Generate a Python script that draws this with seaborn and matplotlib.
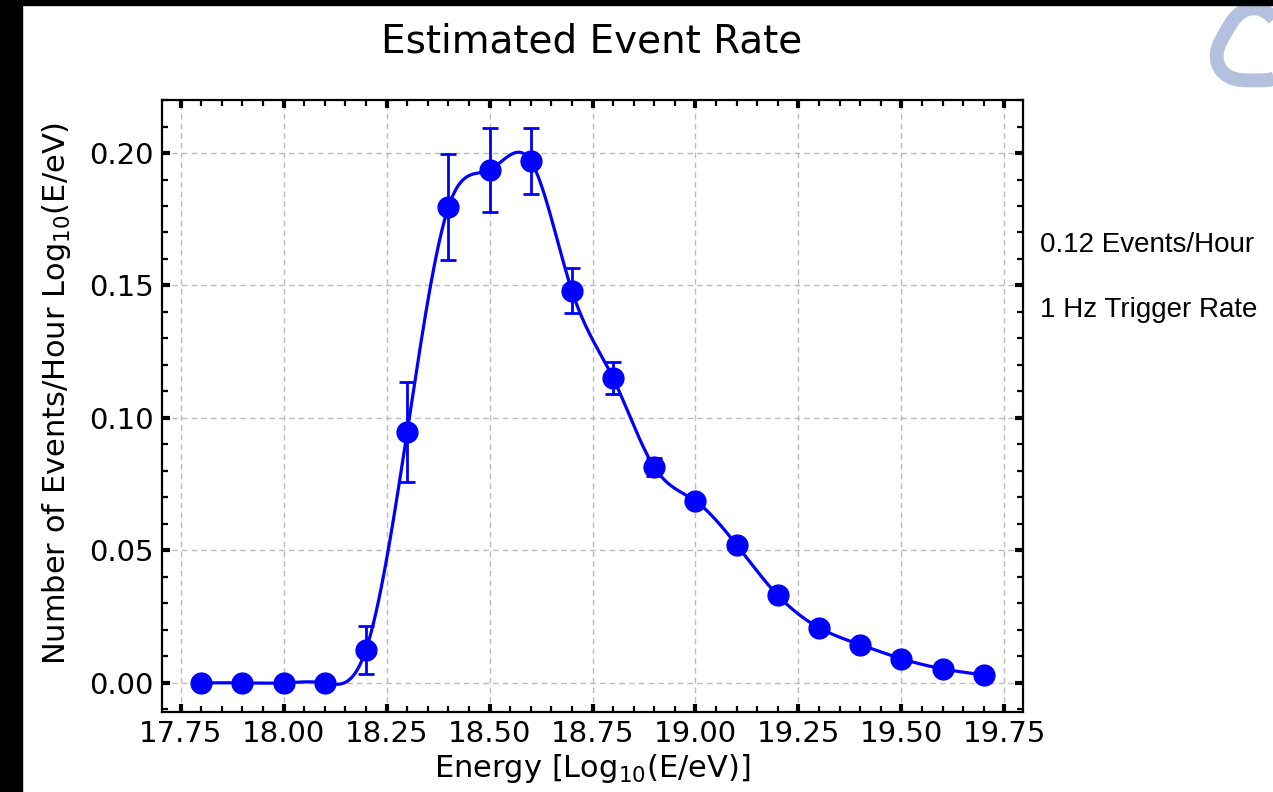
import numpy as np
import pandas as pd
import matplotlib
matplotlib.use("Agg")
import matplotlib.pyplot as plt
import seaborn as sns
from matplotlib.ticker import AutoMinorLocator
from matplotlib.patches import Rectangle, Polygon

# ---- data ----
energy = [17.8, 17.9, 18.0, 18.1, 18.2, 18.3, 18.4, 18.5, 18.6, 18.7,
          18.8, 18.9, 19.0, 19.1, 19.2, 19.3, 19.4, 19.5, 19.6, 19.7]
rate = [0.0, 0.0, 0.0, 0.0, 0.0125, 0.0947, 0.1795, 0.1936, 0.197, 0.148,
        0.115, 0.0814, 0.0686, 0.052, 0.033, 0.0208, 0.0144, 0.0091, 0.0053, 0.003]
rate_err = [0.0, 0.0, 0.0, 0.0, 0.009, 0.019, 0.020, 0.016, 0.0125, 0.0085,
            0.006, 0.0035, 0.002, 0.0015, 0.001, 0.0008, 0.0006, 0.0005, 0.0004, 0.0003]
xticks = [17.75, 18.00, 18.25, 18.50, 18.75, 19.00, 19.25, 19.50, 19.75]
yticks = [0.00, 0.05, 0.10, 0.15, 0.20]
title = "Estimated Event Rate"
xlabel = r"Energy [Log$_{10}$(E/eV)]"
ylabel = r"Number of Events/Hour Log$_{10}$(E/eV)"
notes = ["0.12 Events/Hour", "1 Hz Trigger Rate"]


def natural_cubic_spline(x, y, xs):
    x = np.asarray(x, float)
    y = np.asarray(y, float)
    n = len(x)
    h = np.diff(x)
    A = np.zeros((n, n))
    b = np.zeros(n)
    A[0, 0] = 1.0
    A[-1, -1] = 1.0
    for i in range(1, n - 1):
        A[i, i - 1] = h[i - 1]
        A[i, i] = 2 * (h[i - 1] + h[i])
        A[i, i + 1] = h[i]
        b[i] = 6 * ((y[i + 1] - y[i]) / h[i] - (y[i] - y[i - 1]) / h[i - 1])
    M = np.linalg.solve(A, b)
    idx = np.clip(np.searchsorted(x, xs) - 1, 0, n - 2)
    x0, x1 = x[idx], x[idx + 1]
    hh = x1 - x0
    t0 = x1 - xs
    t1 = xs - x0
    return (M[idx] * t0 ** 3 / (6 * hh) + M[idx + 1] * t1 ** 3 / (6 * hh)
            + (y[idx] / hh - M[idx] * hh / 6) * t0
            + (y[idx + 1] / hh - M[idx + 1] * hh / 6) * t1)


df = pd.DataFrame({"energy": energy, "rate": rate, "err": rate_err})
xs = np.linspace(min(energy), max(energy), 600)
smooth = pd.DataFrame({"energy": xs, "rate": natural_cubic_spline(energy, rate, xs)})

sns.set_style("white")
plt.rcParams["font.family"] = ["DejaVu Sans"]
plt.rcParams["text.color"] = "black"
plt.rcParams["axes.labelcolor"] = "black"
plt.rcParams["xtick.color"] = "black"
plt.rcParams["ytick.color"] = "black"

fig = plt.figure(figsize=(12.73, 7.92), dpi=100)
ax = fig.add_axes([0.1273, 0.101, 0.6763, 0.7727])

blue = "#0000ff"
sns.lineplot(data=smooth, x="energy", y="rate", ax=ax, color=blue, lw=2.3,
             zorder=3, legend=False)
ax.errorbar(df["energy"], df["rate"], yerr=df["err"], fmt="o", color=blue,
            ms=15, elinewidth=2.0, capsize=6, capthick=2.0, zorder=4)

ax.set_xlim(17.705, 19.795)
ax.set_ylim(-0.011, 0.22)
ax.set_xticks(xticks)
ax.set_xticklabels([f"{t:.2f}" for t in xticks])
ax.set_yticks(yticks)
ax.set_yticklabels([f"{t:.2f}" for t in yticks])
ax.xaxis.set_minor_locator(AutoMinorLocator(5))
ax.yaxis.set_minor_locator(AutoMinorLocator(5))
ax.tick_params(which="both", direction="in", top=True, right=True,
               bottom=True, left=True, color="black", labelcolor="black")
ax.tick_params(which="major", length=6, width=3, labelsize=21, pad=6)
ax.tick_params(which="minor", length=4, width=1.6)
ax.grid(True, which="major", ls=(0, (4, 3)), color="#bbbbbb", lw=1.0)
for s in ax.spines.values():
    s.set_color("black")
    s.set_linewidth(1.6)

ax.set_xlabel(xlabel, fontsize=22, color="black")
ax.set_ylabel(ylabel, fontsize=22, color="black")
ax.xaxis.set_label_coords(0.5, -0.065)
ax.yaxis.set_label_coords(-0.104, 0.52)

fig.text(0.465, 0.948, title, ha="center", va="center", fontsize=28, color="black")

fig.text(0.817, 0.691, notes[0], ha="left", va="center", fontsize=20,
         family=["Liberation Sans", "DejaVu Sans"], color="black")
fig.text(0.817, 0.609, notes[1], ha="left", va="center", fontsize=20,
         family=["Liberation Sans", "DejaVu Sans"], color="black")

# black frame strips (left and top)
fig.add_artist(Rectangle((0, 0), 22 / 1273, 1, transform=fig.transFigure,
                         color="black", zorder=10))
fig.add_artist(Rectangle((0, 1 - 5 / 792), 1, 5 / 792, transform=fig.transFigure,
                         color="black", zorder=10))

# logo (rounded triangle ring, top right)
W, H = 1273, 792
t = np.linspace(0, 2 * np.pi, 200)
cx, cy, r = 1254, 48, 36
rr = r * (1 + 0.10 * np.cos(3 * (t - np.pi / 2)))
px = cx + rr * np.cos(t)
py = cy - rr * np.sin(t)
logo = Polygon(np.column_stack([px / W, 1 - py / H]), closed=True, fill=False,
               edgecolor="#b3c0de", lw=10, transform=fig.transFigure, zorder=5)
fig.add_artist(logo)

fig.savefig("out.png", dpi=100, facecolor="white")
